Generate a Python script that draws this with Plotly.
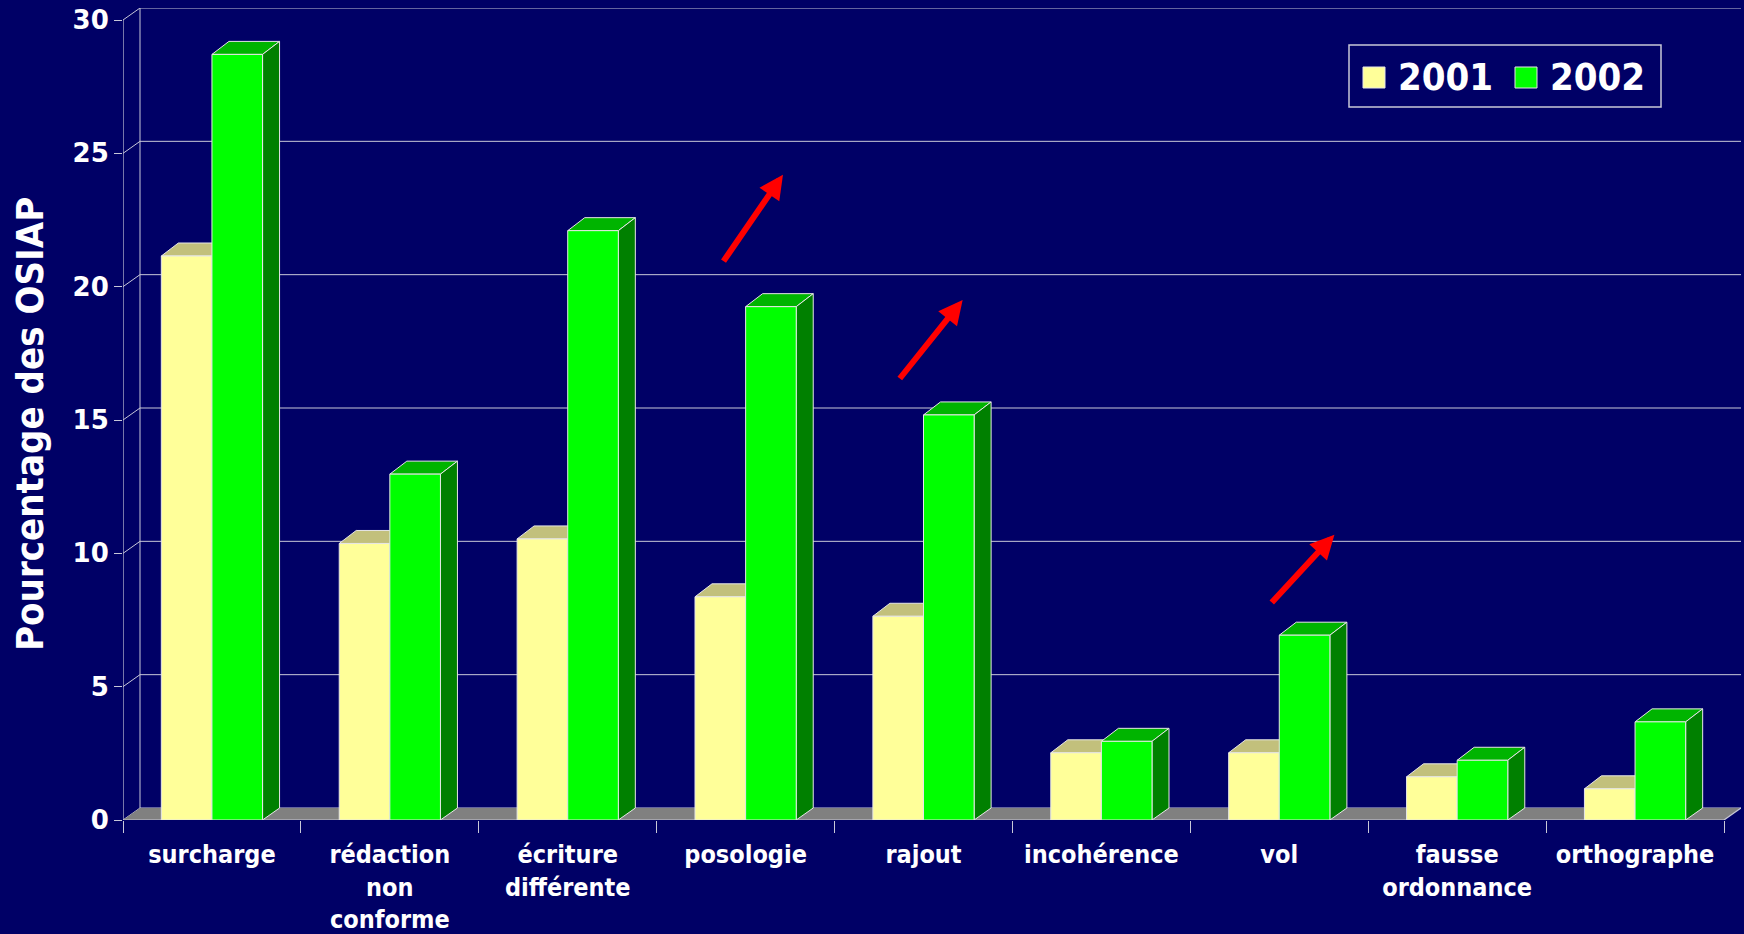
import plotly.graph_objects as go

# ---------------- data ----------------
categories = ["surcharge", "rédaction<br>non<br>conforme", "écriture<br>différente",
              "posologie", "rajout", "incohérence", "vol",
              "fausse<br>ordonnance", "orthographe"]
series_names = ["2001", "2002"]
values_2001 = [21.15, 10.37, 10.54, 8.37, 7.64, 2.52, 2.52, 1.62, 1.17]
values_2002 = [28.71, 12.97, 22.1, 19.25, 15.19, 2.95, 6.93, 2.24, 3.68]
y_ticks = [0, 5, 10, 15, 20, 25, 30]
y_title = "Pourcentage des OSIAP"
# red "increase" arrows: (tail x, tail y, tip x, tip y) in axis units
arrows = [(2.87, 20.9, 3.21, 24.2), (3.86, 16.5, 4.22, 19.5), (5.95, 8.1, 6.31, 10.7)]

# ---------------- styling / geometry ----------------
W, H = 1744, 934
L, R, T, B = 123, 3, 8, 114
PW, PH = W - L - R, H - T - B
DEPTH_PX_X, DEPTH_PX_Y = 17, 12
n = len(categories)
unit_x = (PW - DEPTH_PX_X) / n
ymax = max(y_ticks)
unit_y = (PH - DEPTH_PX_Y) / ymax
DX = DEPTH_PX_X / unit_x
DY = DEPTH_PX_Y / unit_y
BAR_DY = 13 / unit_y
BAR_W = 0.2845

BG = "#000066"
GRID = "#C8C8D8"
YEL, YEL_TOP = "#FFFF99", "#C2C07C"
GRN, GRN_TOP, GRN_SIDE = "#00FF00", "#00B400", "#008000"
EDGE = "#E6E6E6"
CFONT = "DejaVu Sans Condensed, DejaVu Sans, sans-serif"


def xp(px):
    return (px - L) / PW


def yp(py):
    return (H - B - py) / PH


fig = go.Figure()
fig.add_trace(go.Bar(x=categories, y=values_2001, name=series_names[0], width=BAR_W,
                     offset=-BAR_W, marker=dict(color=YEL, line=dict(color=EDGE, width=1)),
                     showlegend=False))
fig.add_trace(go.Bar(x=categories, y=values_2002, name=series_names[1], width=BAR_W,
                     offset=0, marker=dict(color=GRN, line=dict(color=EDGE, width=1)),
                     showlegend=False))

shapes = []
x_left, x_right = -0.5, n - 0.5
# back wall gridlines and connectors
for v in y_ticks:
    shapes.append(dict(type="line", xref="x", yref="y", x0=x_left + DX, x1=x_right + DX,
                       y0=v + DY, y1=v + DY, line=dict(color=GRID, width=1), layer="below"))
    shapes.append(dict(type="line", xref="x", yref="y", x0=x_left, x1=x_left + DX,
                       y0=v, y1=v + DY, line=dict(color=GRID, width=1), layer="below"))
shapes.append(dict(type="line", xref="x", yref="y", x0=x_left + DX, x1=x_left + DX,
                   y0=DY, y1=ymax + DY, line=dict(color=GRID, width=1), layer="below"))
# floor
shapes.append(dict(type="path", xref="x", yref="y",
                   path=f"M{x_left},0 L{x_right},0 L{x_right + DX},{DY} L{x_left + DX},{DY} Z",
                   fillcolor="#808080", line=dict(width=0), layer="below"))
# front axes
shapes.append(dict(type="line", xref="x", yref="y", x0=x_left, x1=x_left, y0=0, y1=ymax,
                   line=dict(color=GRID, width=1.2), layer="below"))
shapes.append(dict(type="line", xref="x", yref="y", x0=x_left, x1=x_right, y0=0, y1=0,
                   line=dict(color=GRID, width=1.2), layer="below"))
shapes.append(dict(type="line", xref="x", yref="y", x0=x_right, x1=x_right + DX, y0=0, y1=DY,
                   line=dict(color=GRID, width=1.2), layer="below"))

# 3D faces of bars
for i, (a, b) in enumerate(zip(values_2001, values_2002)):
    x0, x1 = i - BAR_W, i
    shapes.append(dict(type="path", xref="x", yref="y",
                       path=f"M{x0},{a} L{x1},{a} L{x1 + DX},{a + BAR_DY} L{x0 + DX},{a + BAR_DY} Z",
                       fillcolor=YEL_TOP, line=dict(color=EDGE, width=1), layer="below"))
    x0, x1 = i, i + BAR_W
    shapes.append(dict(type="path", xref="x", yref="y",
                       path=f"M{x0},{b} L{x1},{b} L{x1 + DX},{b + BAR_DY} L{x0 + DX},{b + BAR_DY} Z",
                       fillcolor=GRN_TOP, line=dict(color=EDGE, width=1), layer="below"))
    shapes.append(dict(type="path", xref="x", yref="y",
                       path=f"M{x1},0 L{x1 + DX},{DY} L{x1 + DX},{b + BAR_DY} L{x1},{b} Z",
                       fillcolor=GRN_SIDE, line=dict(color=EDGE, width=1), layer="below"))

# manual legend
shapes.append(dict(type="rect", xref="paper", yref="paper", x0=xp(1349), x1=xp(1661),
                   y0=yp(107), y1=yp(45), line=dict(color=GRID, width=1.5), layer="above"))
shapes.append(dict(type="rect", xref="paper", yref="paper", x0=xp(1363), x1=xp(1385),
                   y0=yp(88), y1=yp(67), fillcolor=YEL, line=dict(color=EDGE, width=1),
                   layer="above"))
shapes.append(dict(type="rect", xref="paper", yref="paper", x0=xp(1515), x1=xp(1537),
                   y0=yp(88), y1=yp(67), fillcolor=GRN, line=dict(color=EDGE, width=1),
                   layer="above"))

annotations = [
    dict(text=series_names[0], xref="paper", yref="paper", x=xp(1396), y=yp(77),
         xanchor="left", yanchor="middle", showarrow=False,
         font=dict(family=CFONT, size=38, color="white", weight="bold")),
    dict(text=series_names[1], xref="paper", yref="paper", x=xp(1548), y=yp(77),
         xanchor="left", yanchor="middle", showarrow=False,
         font=dict(family=CFONT, size=38, color="white", weight="bold")),
    dict(text=y_title, xref="paper", yref="paper", x=xp(30), y=yp(424), textangle=-90,
         xanchor="center", yanchor="middle", showarrow=False,
         font=dict(family=CFONT, size=38, color="white", weight="bold")),
]
for tx, ty, hx, hy in arrows:
    annotations.append(dict(x=hx, y=hy, ax=tx, ay=ty, xref="x", yref="y", axref="x", ayref="y",
                            text="", showarrow=True, arrowhead=2, arrowsize=0.8,
                            arrowwidth=6, arrowcolor="#FF0000", standoff=0))

fig.update_layout(
    width=W, height=H, margin=dict(l=L, r=R, t=T, b=B, autoexpand=False),
    paper_bgcolor=BG, plot_bgcolor=BG, barmode="overlay",
    shapes=shapes, annotations=annotations, showlegend=False,
    xaxis=dict(type="category", categoryorder="array", categoryarray=categories,
               range=[x_left, x_right + DX], tickson="boundaries", ticks="outside",
               ticklen=12, tickcolor=GRID, tickwidth=1, showgrid=False, zeroline=False,
               showline=False, ticklabelstandoff=17, automargin=False,
               tickfont=dict(family=CFONT, size=25, color="white", weight="bold")),
    yaxis=dict(range=[0, ymax + DY], tickvals=y_ticks, ticks="outside", ticklen=8,
               tickcolor=GRID, tickwidth=1, showgrid=False, zeroline=False, showline=False,
               automargin=False,
               tickfont=dict(family="DejaVu Sans, sans-serif", size=26, color="white",
                             weight="bold")),
)

fig.write_html("out.html", config={"displayModeBar": False},
               post_script="document.body.style.margin='0';")
